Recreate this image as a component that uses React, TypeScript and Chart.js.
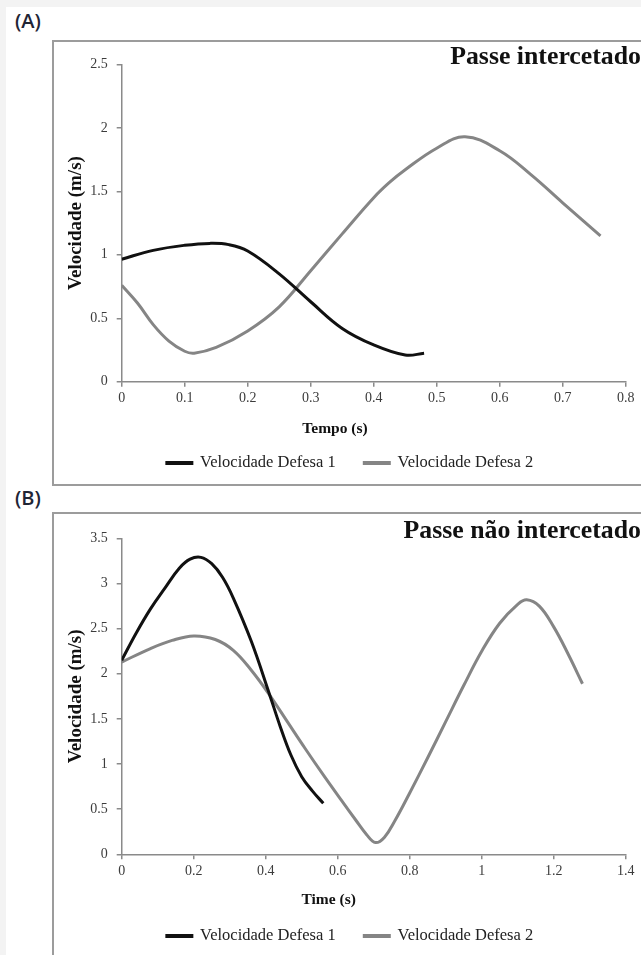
import React, { useEffect, useRef } from "react";
import { Chart, registerables } from "chart.js";

Chart.register(...registerables);

const SERIF = '"Liberation Serif", "Times New Roman", serif';
const SERIES_NAMES = ["Velocidade Defesa 1", "Velocidade Defesa 2"];
const SERIES_COLORS = ["#111111", "#858585"];

// ---------- Panel (A): Passe intercetado ----------
const A_TIME_D1 = [0, 0.05, 0.1, 0.14, 0.17, 0.2, 0.25, 0.3, 0.35, 0.4, 0.45, 0.48];
const A_VEL_D1 = [0.965, 1.035, 1.075, 1.09, 1.08, 1.03, 0.85, 0.63, 0.42, 0.29, 0.21, 0.224];
const A_TIME_D2 = [0, 0.025, 0.05, 0.075, 0.1, 0.115, 0.15, 0.2, 0.25, 0.3, 0.35, 0.4, 0.425, 0.45, 0.5, 0.545, 0.6, 0.65, 0.7, 0.76];
const A_VEL_D2 = [0.76, 0.62, 0.45, 0.32, 0.24, 0.225, 0.27, 0.4, 0.59, 0.875, 1.165, 1.45, 1.57, 1.67, 1.84, 1.93, 1.82, 1.63, 1.41, 1.15];
const A_X_TICKS = [0, 0.1, 0.2, 0.3, 0.4, 0.5, 0.6, 0.7, 0.8];
const A_X_LABELS = ["0", "0.1", "0.2", "0.3", "0.4", "0.5", "0.6", "0.7", "0.8"];
const A_Y_TICKS = [0, 0.5, 1, 1.5, 2, 2.5];
const A_Y_LABELS = ["0", "0.5", "1", "1.5", "2", "2.5"];
const A_TITLE = "Passe intercetado";
const A_X_TITLE = "Tempo (s)";

// ---------- Panel (B): Passe não intercetado ----------
const B_TIME_D1 = [0, 0.04, 0.08, 0.12, 0.16, 0.19, 0.22, 0.25, 0.28, 0.31, 0.36, 0.41, 0.44, 0.47, 0.5, 0.53, 0.56];
const B_VEL_D1 = [2.15, 2.45, 2.72, 2.95, 3.17, 3.27, 3.29, 3.22, 3.07, 2.84, 2.36, 1.78, 1.42, 1.1, 0.86, 0.7, 0.565];
const B_TIME_D2 = [0, 0.08, 0.14, 0.2, 0.26, 0.31, 0.36, 0.41, 0.46, 0.51, 0.56, 0.61, 0.65, 0.68, 0.705, 0.73, 0.76, 0.8, 0.85, 0.9, 0.95, 1.0, 1.05, 1.1, 1.125, 1.16, 1.2, 1.24, 1.28];
const B_VEL_D2 = [2.13, 2.28, 2.37, 2.42, 2.38, 2.26, 2.04, 1.77, 1.47, 1.17, 0.88, 0.6, 0.38, 0.22, 0.13, 0.19, 0.38, 0.68, 1.07, 1.47, 1.87, 2.25, 2.56, 2.77, 2.82, 2.75, 2.52, 2.22, 1.89];
const B_X_TICKS = [0, 0.2, 0.4, 0.6, 0.8, 1, 1.2, 1.4];
const B_X_LABELS = ["0", "0.2", "0.4", "0.6", "0.8", "1", "1.2", "1.4"];
const B_Y_TICKS = [0, 0.5, 1, 1.5, 2, 2.5, 3, 3.5];
const B_Y_LABELS = ["0", "0.5", "1", "1.5", "2", "2.5", "3", "3.5"];
const B_TITLE = "Passe não intercetado";
const B_X_TITLE = "Time (s)";

const Y_TITLE = "Velocidade (m/s)";
const AXIS_COLOR = "#8a8a8a";
const TICK_COLOR = "#3c3c3c";

const pts = (xs: number[], ys: number[]) => xs.map((x, i) => ({ x, y: ys[i] }));

const offsetXTitle = {
  id: "offsetXTitle",
  afterDraw(chart: any, _args: any, opts: any) {
    if (!opts || !opts.text) return;
    const ctx = chart.ctx;
    ctx.save();
    ctx.font = `bold ${opts.size}px ${SERIF}`;
    ctx.fillStyle = opts.color;
    ctx.textAlign = "center";
    ctx.textBaseline = "middle";
    ctx.fillText(opts.text, opts.x, opts.y);
    ctx.restore();
  },
};

type PanelProps = {
  width: number;
  height: number;
  left: number;
  top: number;
  title: string;
  xTitle: string;
  d1x: number[];
  d1y: number[];
  d2x: number[];
  d2y: number[];
  xTicks: number[];
  xLabels: string[];
  yTicks: number[];
  yLabels: string[];
  titlePad: { top: number; bottom: number };
  xScaleHeight: number;
  padBottom: number;
  xTitlePos: { x: number; y: number };
};

function Panel(p: PanelProps) {
  const ref = useRef<HTMLCanvasElement | null>(null);
  useEffect(() => {
    if (!ref.current) return;
    const mk = (label: string, data: any, color: string) => ({
      label,
      data,
      borderColor: color,
      backgroundColor: color,
      borderWidth: 3,
      pointRadius: 0,
      pointHoverRadius: 0,
      tension: 0.4,
      fill: false,
    });
    const chart = new Chart(ref.current, {
      type: "line",
      data: {
        datasets: [
          mk(SERIES_NAMES[0], pts(p.d1x, p.d1y), SERIES_COLORS[0]),
          mk(SERIES_NAMES[1], pts(p.d2x, p.d2y), SERIES_COLORS[1]),
        ],
      },
      plugins: [offsetXTitle],
      options: {
        responsive: false,
        animation: false,
        events: [],
        layout: { padding: { left: 5, right: 0, top: 0, bottom: p.padBottom } },
        scales: {
          x: {
            type: "linear",
            min: p.xTicks[0],
            max: p.xTicks[p.xTicks.length - 1],
            afterBuildTicks: (s: any) => {
              s.ticks = p.xTicks.map((v) => ({ value: v }));
            },
            afterFit: (s: any) => {
              s.height = p.xScaleHeight;
              s.paddingLeft = 0;
              s.paddingRight = 15.3;
            },
            ticks: {
              autoSkip: false,
              maxRotation: 0,
              padding: 3.6,
              color: TICK_COLOR,
              font: { family: SERIF, size: 14 },
              callback: (_v: any, i: number) => p.xLabels[i],
            },
            grid: {
              display: true,
              drawOnChartArea: false,
              drawTicks: true,
              tickLength: 5,
              color: AXIS_COLOR,
              lineWidth: 1.5,
            },
            border: { display: true, color: AXIS_COLOR, width: 1.5 },
          },
          y: {
            type: "linear",
            min: p.yTicks[0],
            max: p.yTicks[p.yTicks.length - 1],
            afterBuildTicks: (s: any) => {
              s.ticks = p.yTicks.map((v) => ({ value: v }));
            },
            afterFit: (s: any) => {
              s.width = 62.7;
            },
            ticks: {
              padding: 9,
              color: TICK_COLOR,
              font: { family: SERIF, size: 14 },
              callback: (_v: any, i: number) => p.yLabels[i],
            },
            grid: {
              display: true,
              drawOnChartArea: false,
              drawTicks: true,
              tickLength: 5,
              color: AXIS_COLOR,
              lineWidth: 1.5,
            },
            border: { display: true, color: AXIS_COLOR, width: 1.5 },
            title: {
              display: true,
              text: Y_TITLE,
              color: "#111",
              font: { family: SERIF, size: 19, weight: "bold" },
              padding: { top: 5.4, bottom: 0 },
            },
          },
        },
        plugins: {
          title: {
            display: true,
            text: p.title,
            align: "end",
            color: "#111",
            font: { family: SERIF, size: 25.8, weight: "bold", lineHeight: 0.5 },
            padding: p.titlePad,
          },
          legend: {
            display: true,
            position: "bottom",
            align: "center",
            labels: {
              color: "#222",
              font: { family: SERIF, size: 16.5 },
              boxWidth: 25,
              boxHeight: 1,
              padding: 28.6,
            },
          },
          tooltip: { enabled: false },
          offsetXTitle: {
            text: p.xTitle,
            size: 15.5,
            color: "#111",
            x: p.xTitlePos.x,
            y: p.xTitlePos.y,
          },
        } as any,
      },
    });
    return () => chart.destroy();
  }, []);
  return (
    <canvas
      ref={ref}
      width={p.width}
      height={p.height}
      style={{ position: "absolute", left: p.left, top: p.top, width: p.width, height: p.height }}
    />
  );
}

const labelStyle: React.CSSProperties = {
  position: "absolute",
  fontFamily: '"Open Sans", Lato, sans-serif',
  fontWeight: 600,
  fontSize: 20,
  color: "#1f2535",
  lineHeight: "27px",
};

export default function App() {
  return (
    <div
      style={{
        position: "fixed",
        left: 0,
        top: 0,
        width: 641,
        height: 955,
        background: "#f3f3f3",
        overflow: "hidden",
      }}
    >
      <div style={{ position: "absolute", left: 6, top: 7, right: 0, bottom: 0, background: "#ffffff" }} />
      <div style={{ ...labelStyle, left: 15, top: 7 }}>(A)</div>
      <div
        style={{
          position: "absolute",
          left: 52,
          top: 40,
          width: 640,
          height: 446,
          border: "2px solid #9c9c9c",
          boxSizing: "border-box",
          background: "#fff",
        }}
      />
      <Panel
        width={587}
        height={442}
        left={54}
        top={42}
        title={A_TITLE}
        xTitle={A_X_TITLE}
        d1x={A_TIME_D1}
        d1y={A_VEL_D1}
        d2x={A_TIME_D2}
        d2y={A_VEL_D2}
        xTicks={A_X_TICKS}
        xLabels={A_X_LABELS}
        yTicks={A_Y_TICKS}
        yLabels={A_Y_LABELS}
        titlePad={{ top: 9.3, bottom: 0.25 }}
        xScaleHeight={44.45}
        padBottom={2.75}
        xTitlePos={{ x: 281, y: 386.5 }}
      />
      <div style={{ ...labelStyle, left: 15, top: 484 }}>(B)</div>
      <div
        style={{
          position: "absolute",
          left: 52,
          top: 512,
          width: 640,
          height: 500,
          border: "2px solid #9c9c9c",
          boxSizing: "border-box",
          background: "#fff",
        }}
      />
      <Panel
        width={587}
        height={441}
        left={54}
        top={514}
        title={B_TITLE}
        xTitle={B_X_TITLE}
        d1x={B_TIME_D1}
        d1y={B_VEL_D1}
        d2x={B_TIME_D2}
        d2y={B_VEL_D2}
        xTicks={B_X_TICKS}
        xLabels={B_X_LABELS}
        yTicks={B_Y_TICKS}
        yLabels={B_Y_LABELS}
        titlePad={{ top: 10.9, bottom: 0.65 }}
        xScaleHeight={44.85}
        padBottom={0.75}
        xTitlePos={{ x: 274.7, y: 386 }}
      />
    </div>
  );
}
